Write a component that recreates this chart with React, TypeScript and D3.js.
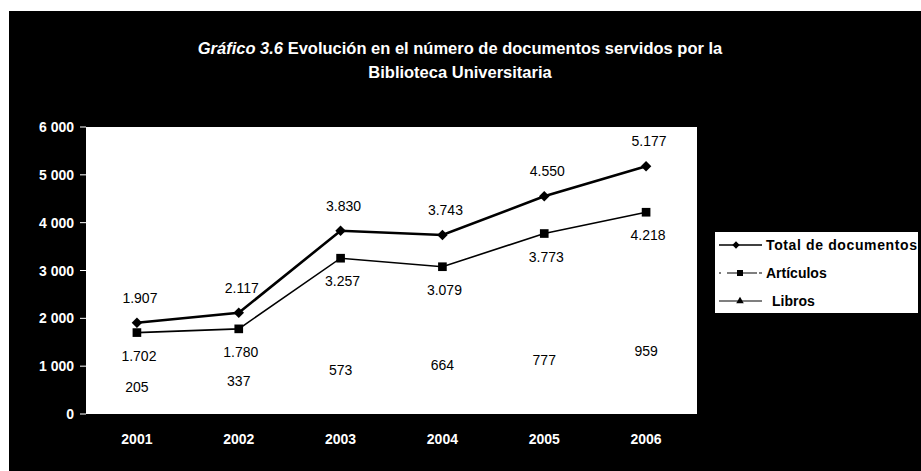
import React from "react";
import * as d3 from "d3";

const years = ["2001", "2002", "2003", "2004", "2005", "2006"];
const totalValues = [1907, 2117, 3830, 3743, 4550, 5177];
const articulosValues = [1702, 1780, 3257, 3079, 3773, 4218];
const librosValues = [205, 337, 573, 664, 777, 959];
const yTicks = [0, 1000, 2000, 3000, 4000, 5000, 6000];
const seriesNames = ["Total de documentos", "Artículos", "Libros"];

const W = 921;
const H = 471;
const plot = { left: 86, right: 697, top: 127, bottom: 414 };

const fmtTick = (v: number) => (v >= 1000 ? `${Math.floor(v / 1000)} ${String(v % 1000).padStart(3, "0")}` : String(v));
const fmtLabel = (v: number) => (v >= 1000 ? `${Math.floor(v / 1000)}.${String(v % 1000).padStart(3, "0")}` : String(v));

export default function App() {
  const x = d3.scalePoint<string>().domain(years).range([plot.left, plot.right]).padding(0.5);
  const y = d3.scaleLinear().domain([0, 6000]).range([plot.bottom, plot.top]);
  const line = d3
    .line<number>()
    .x((_, i) => x(years[i]) as number)
    .y((d) => y(d));

  const font = "'Liberation Sans', Arial, sans-serif";
  const diamond = d3.symbol().type(d3.symbolSquare).size(55)();
  const square = d3.symbol().type(d3.symbolSquare).size(75)();
  const triangle = d3.symbol().type(d3.symbolTriangle).size(50)();

  return (
    <svg width={W} height={H} style={{ position: "absolute", left: 0, top: 0, background: "#fff" }} fontFamily={font}>
      <rect x={9} y={11} width={W - 9} height={H - 11} fill="#000" />
      <text x={460} y={54} fill="#fff" fontSize={16.5} fontWeight="bold" textAnchor="middle">
        <tspan fontStyle="italic">Gráfico 3.6</tspan> Evolución en el número de documentos servidos por la
      </text>
      <text x={460} y={78} fill="#fff" fontSize={16.5} fontWeight="bold" textAnchor="middle">
        Biblioteca Universitaria
      </text>

      <rect x={plot.left} y={plot.top} width={plot.right - plot.left} height={plot.bottom - plot.top} fill="#fff" />

      {yTicks.map((t) => (
        <g key={t}>
          <text x={74} y={y(t) + 5} fill="#fff" fontSize={14} fontWeight="bold" textAnchor="end">
            {fmtTick(t)}
          </text>
          <line x1={80} x2={86} y1={y(t)} y2={y(t)} stroke="#fff" strokeWidth={1} />
        </g>
      ))}
      {years.map((yr) => (
        <text key={yr} x={x(yr)} y={444} fill="#fff" fontSize={14} fontWeight="bold" textAnchor="middle">
          {yr}
        </text>
      ))}

      <path d={line(librosValues) || ""} fill="none" stroke="#fff" strokeWidth={1.5} />
      <path d={line(articulosValues) || ""} fill="none" stroke="#000" strokeWidth={1.6} />
      <path d={line(totalValues) || ""} fill="none" stroke="#000" strokeWidth={2.6} />

      {articulosValues.map((v, i) => (
        <path key={"a" + i} d={square || ""} transform={`translate(${x(years[i])},${y(v)})`} fill="#000" />
      ))}
      {totalValues.map((v, i) => (
        <path key={"t" + i} d={diamond || ""} transform={`translate(${x(years[i])},${y(v)}) rotate(45)`} fill="#000" />
      ))}

      {totalValues.map((v, i) => (
        <text key={"tl" + i} x={(x(years[i]) as number) + 3} y={y(v) - 20} fontSize={14} textAnchor="middle" fill="#000">
          {fmtLabel(v)}
        </text>
      ))}
      {articulosValues.map((v, i) => (
        <text key={"al" + i} x={(x(years[i]) as number) + 2} y={y(v) + 28} fontSize={14} textAnchor="middle" fill="#000">
          {fmtLabel(v)}
        </text>
      ))}
      {librosValues.map((v, i) => (
        <text key={"ll" + i} x={x(years[i]) as number} y={y(v) - 12} fontSize={14} textAnchor="middle" fill="#000">
          {fmtLabel(v)}
        </text>
      ))}

      <g>
        <rect x={715} y={232} width={203} height={81} fill="#fff" />
        {seriesNames.map((name, i) => {
          const cy = 245 + i * 28;
          const marker = i === 0 ? diamond : i === 1 ? square : triangle;
          return (
            <g key={name}>
              <line x1={719} x2={762} y1={cy} y2={cy} stroke="#000" strokeWidth={i === 0 ? 1.5 : 1.2} strokeDasharray={i === 1 ? "2 6 30" : undefined} />
              <path d={marker || ""} transform={`translate(${i === 0 ? 736 : 740},${cy}) scale(${i === 0 ? 0.7 : 0.7})${i === 0 ? " rotate(45)" : ""}`} fill="#000" />
              <text x={i === 2 ? 772 : 766} y={cy + 5} fontSize={14} fill="#000" fontWeight="bold" textLength={i === 0 ? 151 : undefined}>
                {name}
              </text>
            </g>
          );
        })}
      </g>
    </svg>
  );
}
